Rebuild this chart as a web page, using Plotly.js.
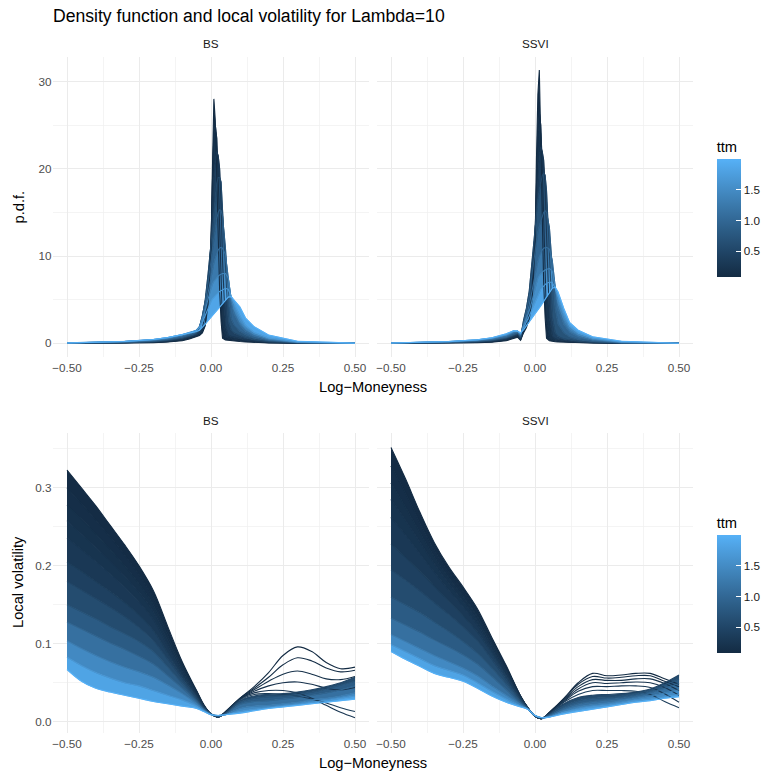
<!DOCTYPE html>
<html><head><meta charset="utf-8">
<script src="https://cdn.plot.ly/plotly-3.0.1.min.js"></script>
<style>html,body{margin:0;padding:0;background:#fff}</style>
</head><body>
<div id="chart" style="width:769px;height:775px"></div>
<script>
// ---------------- data ----------------
const X_LOGM_PDF = [-0.5,-0.4,-0.3,-0.2,-0.15,-0.1,-0.075,-0.06,-0.05,-0.04,-0.03,-0.02,-0.01,0,0.005,0.01,0.015,0.02,0.025,0.03,0.035,0.04,0.05,0.06,0.07,0.08,0.1,0.12,0.15,0.2,0.3,0.5];
const TTM_PDF = [0.083,0.15,0.3,0.55,0.85,1.1,1.4,1.7,2.0];
const PDF_BS = [
 [0.00,0.01,0.03,0.08,0.15,0.30,0.50,0.65,0.80,0.90,1.20,2.00,4.50,11.0,20.0,28.0,25.5,19.0,12.0,6.0,2.5,0.6,0.40,0.35,0.30,0.28,0.22,0.17,0.12,0.06,0.02,0.00],
 [0.01,0.02,0.05,0.12,0.20,0.38,0.60,0.75,0.90,1.00,1.30,2.30,5.50,11.5,18.5,24.0,25.0,23.5,19.0,12.5,6.0,2.0,0.70,0.60,0.50,0.45,0.35,0.27,0.18,0.09,0.03,0.00],
 [0.01,0.03,0.07,0.16,0.27,0.48,0.70,0.85,1.00,1.20,1.80,3.20,6.50,11.5,15.5,19.0,21.0,22.0,21.5,20.0,16.0,9.5,2.0,0.90,0.80,0.70,0.55,0.40,0.27,0.13,0.04,0.00],
 [0.02,0.04,0.09,0.20,0.33,0.58,0.80,0.95,1.15,1.80,3.00,5.00,8.00,11.5,13.5,15.3,17.0,18.3,19.0,19.0,18.5,15.5,8.0,2.5,1.5,1.2,0.90,0.65,0.42,0.20,0.06,0.00],
 [0.03,0.06,0.12,0.26,0.42,0.70,0.95,1.10,1.30,1.90,3.20,4.80,7.00,9.5,10.8,12.0,13.3,14.3,15.0,15.3,15.2,14.6,11.0,6.0,2.8,2.1,1.40,1.00,0.62,0.30,0.08,0.01],
 [0.04,0.08,0.16,0.33,0.52,0.85,1.10,1.25,1.45,1.90,2.90,4.10,5.80,7.6,8.5,9.2,9.8,10.3,10.7,10.9,11.0,10.9,10.2,7.5,4.8,3.4,2.10,1.40,0.85,0.40,0.10,0.01],
 [0.05,0.10,0.20,0.40,0.60,0.95,1.20,1.35,1.55,1.95,2.80,3.80,5.10,6.3,6.8,7.1,7.35,7.55,7.7,7.85,7.95,8.0,8.0,7.5,5.2,3.9,2.50,1.70,1.05,0.50,0.12,0.01],
 [0.06,0.12,0.23,0.45,0.66,1.00,1.22,1.35,1.50,1.80,2.40,3.20,4.10,4.8,5.1,5.3,5.5,5.65,5.8,5.95,6.05,6.15,6.3,6.2,5.3,4.6,3.20,2.05,1.25,0.62,0.15,0.02],
 [0.05,0.12,0.22,0.45,0.68,1.00,1.15,1.25,1.35,1.50,1.80,2.20,2.60,3.0,3.2,3.4,3.55,3.75,3.9,4.1,4.3,4.5,4.9,5.3,5.35,5.0,4.20,2.90,1.90,0.95,0.25,0.03]
];
const PDF_SSVI = [
 [0.00,0.01,0.03,0.08,0.14,0.30,0.55,0.70,0.35,1.20,1.80,2.80,5.00,11.0,21.0,28.5,31.3,23.0,14.0,7.0,3.0,0.6,0.30,0.20,0.18,0.15,0.12,0.10,0.07,0.04,0.01,0.00],
 [0.01,0.02,0.05,0.11,0.19,0.38,0.65,0.85,0.40,1.40,2.20,3.50,6.50,12.0,18.0,24.0,26.5,25.0,20.5,14.0,7.0,2.5,0.50,0.35,0.30,0.26,0.20,0.16,0.11,0.06,0.02,0.00],
 [0.01,0.03,0.07,0.15,0.25,0.48,0.80,1.00,0.50,1.90,3.00,4.80,8.00,12.5,16.0,19.0,21.5,22.5,22.0,21.0,18.0,12.5,3.0,0.80,0.50,0.42,0.32,0.25,0.17,0.09,0.03,0.00],
 [0.02,0.04,0.09,0.19,0.31,0.58,0.92,1.10,0.65,2.60,4.00,6.00,9.50,13.3,15.0,16.5,17.5,18.5,19.2,19.5,19.3,17.5,10.0,3.0,1.20,0.80,0.50,0.38,0.25,0.13,0.04,0.00],
 [0.03,0.06,0.12,0.24,0.38,0.68,1.05,1.20,0.80,2.30,3.50,5.20,8.00,10.5,11.8,12.8,13.5,14.0,14.6,15.0,15.2,15.0,13.3,9.0,4.0,2.2,1.20,0.75,0.45,0.22,0.06,0.01],
 [0.04,0.08,0.15,0.30,0.46,0.80,1.20,1.30,0.95,2.10,3.10,4.40,6.20,8.0,8.8,9.4,10.0,10.4,10.7,10.9,11.0,11.0,10.8,9.5,6.5,4.0,2.20,1.30,0.75,0.35,0.09,0.01],
 [0.05,0.10,0.18,0.36,0.55,0.92,1.30,1.38,1.05,2.00,2.80,3.70,4.90,6.3,7.0,7.5,7.8,8.0,8.2,8.3,8.4,8.5,8.6,8.3,6.4,4.6,2.80,1.70,1.00,0.48,0.12,0.01],
 [0.05,0.11,0.20,0.40,0.60,1.00,1.40,1.42,1.12,1.80,2.40,3.10,3.90,4.7,5.2,5.6,5.9,6.2,6.4,6.6,6.75,6.9,7.0,7.0,6.3,5.3,3.50,2.00,1.20,0.58,0.16,0.02],
 [0.05,0.12,0.22,0.42,0.65,1.10,1.45,1.40,1.20,1.55,2.00,2.45,2.90,3.3,3.5,3.8,4.0,4.3,4.55,4.8,5.05,5.3,5.8,6.3,6.45,5.9,4.00,2.40,1.50,0.75,0.25,0.02]
];

const X_LOGM_LV = [-0.5,-0.45,-0.4,-0.35,-0.3,-0.25,-0.2,-0.15,-0.1,-0.05,-0.025,0,0.025,0.05,0.1,0.15,0.2,0.25,0.3,0.35,0.4,0.45,0.5];
const TTM_LV = [0.083,0.12,0.16,0.2,0.25,0.35,0.5,0.7,0.95,1.3,1.65,2.0];
const LV_BS = [
 [0.323,0.300,0.277,0.252,0.227,0.200,0.168,0.122,0.077,0.040,0.022,0.010, 0.006,0.013,0.030,0.045,0.063,0.085,0.096,0.090,0.076,0.068,0.070],
 [0.300,0.280,0.259,0.237,0.214,0.189,0.159,0.116,0.074,0.039,0.021,0.010, 0.006,0.013,0.030,0.043,0.057,0.073,0.082,0.078,0.069,0.064,0.066],
 [0.278,0.260,0.241,0.221,0.200,0.177,0.150,0.110,0.071,0.038,0.021,0.010, 0.006,0.012,0.029,0.041,0.052,0.061,0.065,0.061,0.055,0.054,0.058],
 [0.258,0.241,0.224,0.206,0.187,0.166,0.141,0.104,0.068,0.037,0.020,0.010, 0.006,0.012,0.029,0.039,0.046,0.050,0.051,0.048,0.043,0.041,0.044],
 [0.236,0.221,0.206,0.190,0.173,0.154,0.131,0.097,0.064,0.035,0.020,0.010, 0.006,0.012,0.029,0.037,0.040,0.040,0.037,0.030,0.021,0.012,0.005],
 [0.205,0.193,0.180,0.167,0.153,0.137,0.117,0.088,0.059,0.033,0.019,0.010, 0.006,0.011,0.028,0.035,0.036,0.035,0.033,0.029,0.024,0.018,0.013],
 [0.180,0.169,0.158,0.147,0.135,0.121,0.104,0.080,0.055,0.031,0.018,0.010, 0.006,0.011,0.027,0.033,0.035,0.036,0.038,0.041,0.045,0.050,0.057],
 [0.150,0.141,0.132,0.122,0.113,0.103,0.090,0.070,0.049,0.028,0.017,0.010, 0.007,0.010,0.025,0.030,0.032,0.033,0.035,0.038,0.042,0.047,0.052],
 [0.128,0.119,0.110,0.101,0.093,0.084,0.074,0.059,0.043,0.026,0.016,0.010, 0.007,0.010,0.022,0.026,0.027,0.029,0.031,0.034,0.037,0.041,0.046],
 [0.104,0.094,0.085,0.077,0.070,0.064,0.057,0.047,0.036,0.023,0.015,0.009, 0.008,0.009,0.017,0.020,0.021,0.023,0.025,0.028,0.030,0.033,0.037],
 [0.083,0.072,0.063,0.056,0.050,0.046,0.040,0.034,0.028,0.020,0.014,0.009, 0.008,0.009,0.013,0.016,0.018,0.020,0.022,0.025,0.027,0.030,0.033],
 [0.067,0.052,0.043,0.038,0.034,0.030,0.026,0.023,0.020,0.017,0.013,0.009, 0.008,0.009,0.011,0.014,0.017,0.019,0.021,0.023,0.025,0.027,0.029]
];
const LV_SSVI = [
 [0.352,0.312,0.269,0.230,0.199,0.173,0.145,0.108,0.072,0.033,0.018,0.007, 0.004,0.012,0.030,0.050,0.062,0.059,0.060,0.062,0.062,0.055,0.048],
 [0.328,0.294,0.256,0.221,0.192,0.167,0.140,0.105,0.070,0.033,0.018,0.007, 0.004,0.012,0.029,0.048,0.058,0.056,0.057,0.059,0.059,0.052,0.045],
 [0.306,0.276,0.243,0.212,0.185,0.161,0.135,0.102,0.068,0.032,0.018,0.007, 0.004,0.012,0.028,0.045,0.054,0.053,0.053,0.055,0.055,0.049,0.040],
 [0.285,0.259,0.231,0.203,0.178,0.155,0.130,0.098,0.066,0.032,0.018,0.007, 0.004,0.011,0.027,0.042,0.050,0.049,0.050,0.051,0.050,0.044,0.034],
 [0.262,0.240,0.216,0.192,0.169,0.148,0.124,0.094,0.063,0.031,0.018,0.007, 0.004,0.011,0.026,0.039,0.045,0.045,0.046,0.046,0.044,0.036,0.025],
 [0.228,0.211,0.193,0.174,0.155,0.136,0.115,0.088,0.059,0.030,0.018,0.007, 0.004,0.010,0.025,0.035,0.040,0.040,0.040,0.039,0.035,0.026,0.018],
 [0.195,0.182,0.168,0.153,0.138,0.122,0.104,0.080,0.054,0.028,0.017,0.007, 0.005,0.010,0.023,0.031,0.034,0.035,0.036,0.038,0.042,0.050,0.060],
 [0.160,0.150,0.140,0.128,0.116,0.103,0.088,0.069,0.048,0.026,0.017,0.007, 0.005,0.009,0.020,0.027,0.030,0.031,0.033,0.036,0.040,0.047,0.055],
 [0.133,0.124,0.115,0.105,0.096,0.086,0.074,0.058,0.041,0.024,0.017,0.008, 0.005,0.008,0.017,0.023,0.026,0.028,0.030,0.033,0.037,0.043,0.049],
 [0.112,0.103,0.094,0.085,0.077,0.069,0.059,0.046,0.034,0.022,0.016,0.008, 0.005,0.007,0.014,0.019,0.022,0.024,0.027,0.030,0.033,0.037,0.041],
 [0.099,0.090,0.081,0.072,0.066,0.060,0.050,0.039,0.029,0.020,0.016,0.008, 0.005,0.006,0.012,0.016,0.019,0.021,0.024,0.027,0.029,0.032,0.035],
 [0.090,0.080,0.071,0.062,0.057,0.052,0.043,0.033,0.025,0.019,0.016,0.008, 0.005,0.006,0.010,0.013,0.016,0.019,0.022,0.025,0.027,0.030,0.032]
];

const X_TICKS = [-0.5,-0.25,0,0.25,0.5];
const PDF_TICKS = [0,10,20,30];
const LV_TICKS = [0,0.1,0.2,0.3];
const TTM_TICKS = [0.5,1.0,1.5];
const TTM_TICKTEXT = ['0.5','1.0','1.5'];

// ---------------- colours (ggplot default gradient, Lab interpolation) ----------------
function hexToRgb(h){return [1,3,5].map(i=>parseInt(h.slice(i,i+2),16));}
function toLab(rgb){
  const lin=rgb.map(c=>{c/=255;return c<=0.04045?c/12.92:Math.pow((c+0.055)/1.055,2.4);});
  const X=(0.4124564*lin[0]+0.3575761*lin[1]+0.1804375*lin[2])/0.95047;
  const Y=(0.2126729*lin[0]+0.7151522*lin[1]+0.0721750*lin[2]);
  const Z=(0.0193339*lin[0]+0.1191920*lin[1]+0.9503041*lin[2])/1.08883;
  const f=t=>t>0.008856?Math.cbrt(t):7.787*t+16/116;
  const fx=f(X),fy=f(Y),fz=f(Z);
  return [116*fy-16,500*(fx-fy),200*(fy-fz)];
}
function fromLab(lab){
  const fy=(lab[0]+16)/116, fx=fy+lab[1]/500, fz=fy-lab[2]/200;
  const fi=t=>{const t3=t*t*t;return t3>0.008856?t3:(t-16/116)/7.787;};
  const X=fi(fx)*0.95047, Y=fi(fy), Z=fi(fz)*1.08883;
  const r=3.2404542*X-1.5371385*Y-0.4985314*Z;
  const g=-0.9692660*X+1.8760108*Y+0.0415560*Z;
  const b=0.0556434*X-0.2040259*Y+1.0572252*Z;
  const enc=c=>{c=c<=0.0031308?12.92*c:1.055*Math.pow(c,1/2.4)-0.055;return Math.round(Math.min(1,Math.max(0,c))*255);};
  return 'rgb('+enc(r)+','+enc(g)+','+enc(b)+')';
}
const LAB_LO=toLab(hexToRgb('#132B43')), LAB_HI=toLab(hexToRgb('#56B1F7'));
function colorFrac(f){return fromLab(LAB_LO.map((v,i)=>v+(LAB_HI[i]-v)*f));}
const TMIN=Math.min(...TTM_LV,...TTM_PDF), TMAX=Math.max(...TTM_LV,...TTM_PDF);
function colorTtm(t){return colorFrac((t-TMIN)/(TMAX-TMIN));}
const CSCALE=Array.from({length:11},(_,i)=>[i/10,colorFrac(i/10)]);

// ---------------- traces ----------------
const traces=[];
function panel(xa,ya,X,rows,ttm,shape,groups){
  groups.forEach(g=>{
    g.idx.forEach((k,j)=>{
      const prev=j>0?g.idx[j-1]:k;
      const col=colorTtm((ttm[prev]+ttm[k])/2);
      traces.push({type:'scatter',mode:'lines',xaxis:xa,yaxis:ya,
        x:X.slice(g.i0,g.i1+1),y:rows[k].slice(g.i0,g.i1+1),
        line:{width:j>0?0.7:0,color:col,shape:shape},
        fill:j>0?'tonexty':'none',fillcolor:col,hoverinfo:'skip',showlegend:false});
    });
  });
  rows.forEach((r,k)=>{
    traces.push({type:'scatter',mode:'lines',xaxis:xa,yaxis:ya,x:X,y:r,
      line:{width:1.1,color:colorTtm(ttm[k]),shape:shape},hoverinfo:'skip',showlegend:false});
  });
}
const allPdf=TTM_PDF.map((_,i)=>i);
const allLv=TTM_LV.map((_,i)=>i);
const iMid=X_LOGM_LV.indexOf(0.05), iEnd=X_LOGM_LV.length-1;
panel('x','y',X_LOGM_PDF,PDF_BS,TTM_PDF,'linear',[{i0:0,i1:X_LOGM_PDF.length-1,idx:allPdf}]);
panel('x2','y2',X_LOGM_PDF,PDF_SSVI,TTM_PDF,'linear',[{i0:0,i1:X_LOGM_PDF.length-1,idx:allPdf}]);
panel('x3','y3',X_LOGM_LV,LV_BS,TTM_LV,'spline',[{i0:0,i1:iMid,idx:allLv},{i0:iMid,i1:iEnd,idx:[6,7,8,9,10,11]}]);
panel('x4','y4',X_LOGM_LV,LV_SSVI,TTM_LV,'spline',[{i0:0,i1:iMid,idx:allLv},{i0:iMid,i1:iEnd,idx:[6,7,8,9,10,11]}]);
// colour-bar carriers (invisible)
traces.push({type:'scatter',mode:'markers',xaxis:'x2',yaxis:'y2',x:[X_LOGM_PDF[0]],y:[PDF_SSVI[0][0]],
  marker:{color:[TTM_PDF[0]],coloraxis:'coloraxis',opacity:0,size:1},hoverinfo:'skip',showlegend:false});
traces.push({type:'scatter',mode:'markers',xaxis:'x4',yaxis:'y4',x:[X_LOGM_LV[0]],y:[LV_SSVI[0][0]],
  marker:{color:[TTM_LV[0]],coloraxis:'coloraxis2',opacity:0,size:1},hoverinfo:'skip',showlegend:false});

// ---------------- layout ----------------
const FONT='"Liberation Sans", Arial, Helvetica, sans-serif';
const W=769,H=775;
const px=v=>v/W, py=v=>1-v/H;
const base={showline:false,zeroline:false,ticks:'',ticklen:0,showgrid:true,gridcolor:'#EBEBEB',gridwidth:1,
  tickfont:{family:FONT,size:11.7,color:'#4D4D4D'},fixedrange:true};
const xax=(dom,anchor)=>Object.assign({},base,{domain:dom,anchor:anchor,range:[-0.55,0.55],tickvals:X_TICKS,tickformat:'.2f',
  ticklabelstandoff:2,minor:{showgrid:true,gridcolor:'#F0F0F0',gridwidth:0.7,tick0:-0.375,dtick:0.25}});
const yPdf=(anchor,lab)=>Object.assign({},base,{domain:[py(357),py(57)],anchor:anchor,range:[-1.56,32.8],tickvals:PDF_TICKS,showticklabels:lab,
  minor:{showgrid:true,gridcolor:'#F0F0F0',gridwidth:0.7,tick0:5,dtick:10}});
const yLv=(anchor,lab)=>Object.assign({},base,{domain:[py(733),py(433)],anchor:anchor,range:[-0.0145,0.3705],tickvals:LV_TICKS,tickformat:'.1f',showticklabels:lab,
  minor:{showgrid:true,gridcolor:'#F0F0F0',gridwidth:0.7,tick0:0.05,dtick:0.1}});
const domL=[px(52.6),px(369.4)], domR=[px(376.6),px(693.4)];
const cbar=(ycenter,len)=>({thickness:24,thicknessmode:'pixels',len:len,lenmode:'pixels',x:px(716.7),xanchor:'left',xpad:0,
  y:py(ycenter),yanchor:'middle',ypad:0,outlinewidth:0,ticks:'inside',ticklen:5,tickcolor:'#ffffff',tickwidth:1,
  tickvals:TTM_TICKS,ticktext:TTM_TICKTEXT,tickfont:{family:FONT,size:11.7,color:'#1A1A1A'},
  title:{text:'ttm',side:'top',font:{family:FONT,size:14.7,color:'#000000'}}});
const ann=(text,x,y,opt)=>Object.assign({text:text,x:x,y:y,xref:'paper',yref:'paper',showarrow:false,xanchor:'center',yanchor:'middle',
  font:{family:FONT,size:11.7,color:'#1A1A1A'}},opt||{});
const layout={
  width:W,height:H,margin:{l:0,r:0,t:0,b:0},paper_bgcolor:'#ffffff',plot_bgcolor:'#ffffff',showlegend:false,
  font:{family:FONT,size:11.7,color:'#4D4D4D'},
  title:{text:'Density function and local volatility for Lambda=10',x:px(53),xanchor:'left',xref:'container',
    y:py(15.5),yanchor:'middle',yref:'container',font:{family:FONT,size:17.6,color:'#000000'}},
  xaxis:xax(domL,'y'),yaxis:yPdf('x',true),
  xaxis2:xax(domR,'y2'),yaxis2:yPdf('x2',false),
  xaxis3:xax(domL,'y3'),yaxis3:yLv('x3',true),
  xaxis4:xax(domR,'y4'),yaxis4:yLv('x4',false),
  coloraxis:{cmin:TMIN,cmax:TMAX,colorscale:CSCALE,colorbar:cbar(207.5,139)},
  coloraxis2:{cmin:TMIN,cmax:TMAX,colorscale:CSCALE,colorbar:cbar(583.5,139)},
  annotations:[
    ann('BS',px(211),py(44)),ann('SSVI',px(535),py(44)),
    ann('BS',px(211),py(420.5)),ann('SSVI',px(535),py(420.5)),
    ann('p.d.f.',px(18.5),py(207),{textangle:-90,font:{family:FONT,size:14.7,color:'#000000'}}),
    ann('Local volatility',px(17.5),py(582.5),{textangle:-90,font:{family:FONT,size:14.7,color:'#000000'}}),
    ann('Log\u2212Moneyness',px(373),py(386.5),{font:{family:FONT,size:14.7,color:'#000000'}}),
    ann('Log\u2212Moneyness',px(373),py(763),{font:{family:FONT,size:14.7,color:'#000000'}})
  ]
};
Plotly.newPlot('chart',traces,layout,{displayModeBar:false,staticPlot:true});
</script>
</body></html>
